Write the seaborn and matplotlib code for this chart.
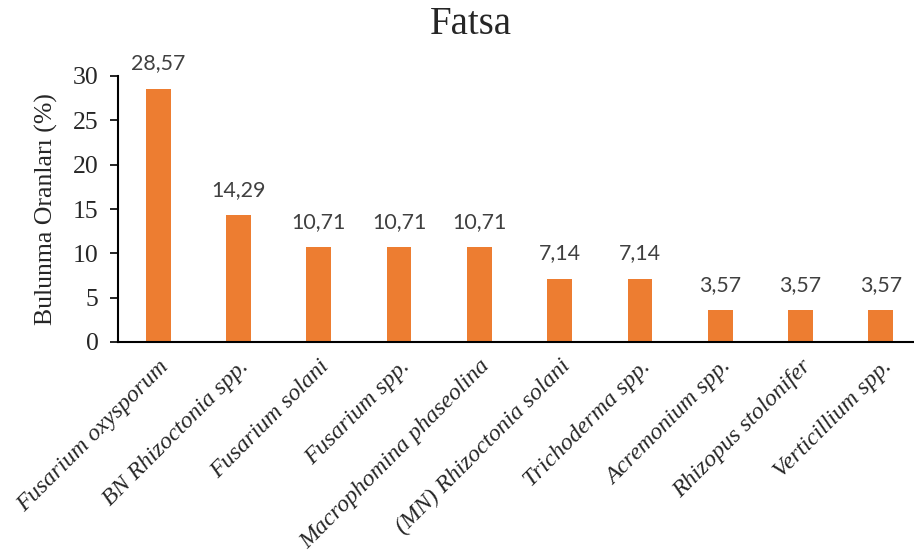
import matplotlib
matplotlib.use("Agg")
import matplotlib.pyplot as plt
import seaborn as sns
import pandas as pd

species = [
    "Fusarium oxysporum",
    "BN Rhizoctonia spp.",
    "Fusarium solani",
    "Fusarium spp.",
    "Macrophomina phaseolina",
    "(MN) Rhizoctonia solani",
    "Trichoderma spp.",
    "Acremonium spp.",
    "Rhizopus stolonifer",
    "Verticillium spp.",
]
rates = [28.57, 14.29, 10.71, 10.71, 10.71, 7.14, 7.14, 3.57, 3.57, 3.57]
yticks = [0, 5, 10, 15, 20, 25, 30]

df = pd.DataFrame({"species": species, "rate": rates})

sns.set_theme(style="white")
plt.rcParams["font.family"] = ["Liberation Serif", "DejaVu Serif"]

fig = plt.figure(figsize=(9.14, 5.58), dpi=100)
ax = fig.add_axes([118 / 914, 216 / 558, 803 / 914, 266 / 558])

sns.barplot(data=df, x="species", y="rate", color="#ED7D31", width=0.31,
            saturation=1, ax=ax, edgecolor="none")

ax.set_xlim(-0.5, len(species) - 0.5)
ax.set_ylim(0, 30)
ax.set_yticks(yticks)
ax.set_yticklabels([str(t) for t in yticks], fontsize=18.5)
ax.set_xlabel("")
ax.set_ylabel("Bulunma Oranları (%)", fontsize=18.5, labelpad=11)
ax.set_xticks(range(len(species)))
ax.set_xticklabels(species, rotation=45, ha="right", rotation_mode="anchor",
                   fontsize=17.3, style="italic")
ax.tick_params(axis="x", length=0, pad=10)
ax.tick_params(axis="y", length=6, width=1.2, color="black", pad=8, left=True)

for side in ["top", "right"]:
    ax.spines[side].set_visible(False)
for side in ["left", "bottom"]:
    ax.spines[side].set_color("black")
    ax.spines[side].set_linewidth(1.5)

for i, v in enumerate(rates):
    ax.annotate(f"{v:.2f}".replace(".", ","), (i, v), xytext=(0, 11),
                textcoords="offset points", ha="center", va="bottom",
                fontsize=15.4, color="#404040", family=["Lato", "DejaVu Sans"])

fig.text(471 / 914, 1 - 24 / 558, "Fatsa", ha="center", va="center", fontsize=28)

fig.savefig("out.png", dpi=100)
